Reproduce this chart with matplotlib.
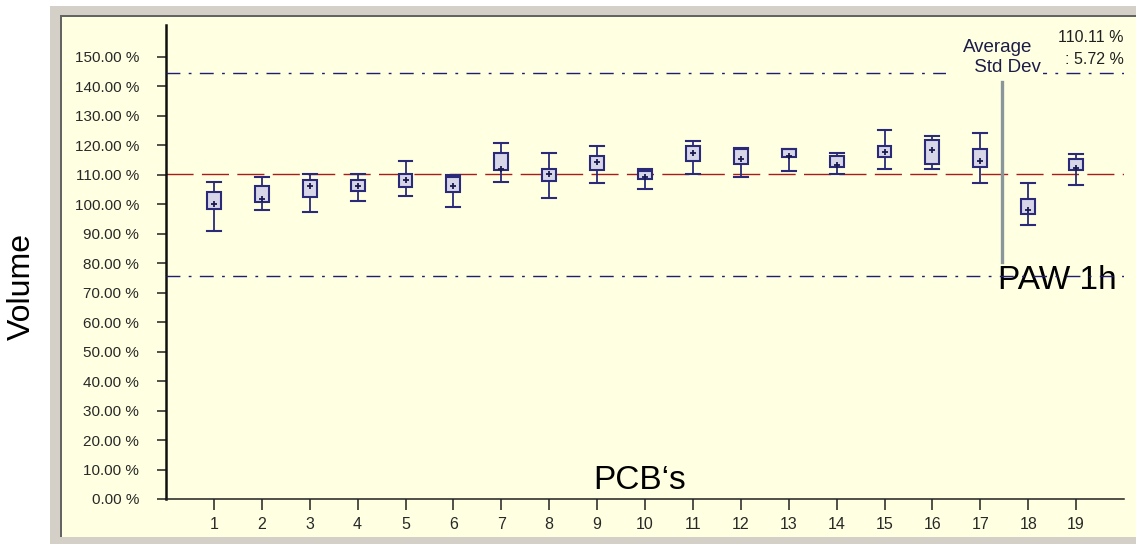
import numpy as np
import matplotlib.pyplot as plt
from matplotlib.patches import Rectangle

# Data (values in %)
pcb = list(range(1, 20))
whis_hi = [107.4, 109.1, 110.2, 110.2, 114.5, 110.0, 120.7, 117.4, 119.8, 112.1,
           121.6, 119.0, 118.9, 117.4, 125.1, 123.1, 124.0, 107.3, 117.2]
q3 = [104.0, 106.2, 108.2, 108.2, 110.2, 109.3, 117.4, 112.0, 116.4, 111.2,
      119.8, 118.7, 118.7, 116.4, 119.8, 121.9, 118.8, 101.8, 115.4]
q1 = [98.4, 100.6, 102.3, 104.4, 105.7, 104.3, 111.5, 107.8, 111.5, 108.6,
      114.7, 113.8, 115.9, 112.5, 115.9, 113.8, 112.5, 96.6, 111.6]
whis_lo = [90.9, 98.2, 97.2, 101.0, 102.8, 99.1, 107.4, 102.0, 107.3, 105.3,
           110.2, 109.2, 111.2, 110.2, 112.0, 112.0, 107.3, 92.9, 106.4]
means = [100.0, 101.9, 106.2, 106.2, 108.2, 106.2, 112.1, 110.2, 114.4, 109.4,
         117.4, 115.5, 116.3, 113.3, 117.6, 118.4, 114.5, 98.2, 112.3]

average = 110.11
std_dev = 5.72
upper = average + 6 * std_dev
lower = average - 6 * std_dev
y_ticks = list(range(0, 151, 10))
marker_x = 17.45            # grey vertical marker for "PAW 1h"
marker_span = (80.4, 141.6)

W, H = 1136, 544
sans = ['Liberation Sans', 'DejaVu Sans']
navy = '#2a2a78'

fig = plt.figure(figsize=(W / 100, H / 100), dpi=100, facecolor='white')


def frame(x0, y0, x1, y1, color):
    fig.patches.append(Rectangle((x0 / W, 1 - y1 / H), (x1 - x0) / W, (y1 - y0) / H,
                                 transform=fig.transFigure, facecolor=color,
                                 edgecolor='none', zorder=-10))


# sunken panel frame
frame(50, 6, W, H, '#d4d0c8')
frame(60, 15, W, 537, '#646464')
frame(62, 17, W, 537, '#ffffe1')

ax = fig.add_axes([166 / W, 1 - 499 / H, (1124 - 166) / W, (499 - 25) / H])
ax.set_facecolor('none')

stats = [dict(whislo=lo, q1=a, med=m, q3=b, whishi=hi, mean=m, fliers=[])
         for lo, a, b, hi, m in zip(whis_lo, q1, q3, whis_hi, means)]
ax.bxp(stats, positions=pcb, widths=0.29, capwidths=0.29, patch_artist=True,
       showmeans=True, showfliers=False,
       boxprops=dict(facecolor='#d6d6e8', edgecolor=navy, linewidth=1.5),
       whiskerprops=dict(color=navy, linewidth=1.3),
       capprops=dict(color=navy, linewidth=1.5),
       medianprops=dict(linewidth=0),
       meanprops=dict(marker='+', markeredgecolor='#1a1a50', markersize=4.5,
                      markeredgewidth=1.3),
       zorder=3)

ax.axhline(average, color='#a81c1c', lw=1.0, dashes=(19.5, 6), zorder=2)
ax.axhline(upper, color='#1e1e72', lw=1.0, dashes=(10, 6, 2, 6), zorder=4)
ax.axhline(lower, color='#1e1e72', lw=1.0, dashes=(10, 6, 2, 6), zorder=4)
ax.plot([marker_x, marker_x], marker_span, color='#8a959c', lw=2.4, zorder=4)

ax.set_xlim(0, 20)
ax.set_ylim(0, 160.8)
ax.set_xticks(pcb)
ax.set_xticklabels([str(p) for p in pcb], family=sans, fontsize=11.5)
ax.set_yticks(y_ticks)
ax.set_yticklabels([f'{v:.2f} %' for v in y_ticks], family=sans, fontsize=11)
ax.tick_params(axis='y', length=6.5, width=1.1, pad=13, colors='#202020')
ax.tick_params(axis='x', length=8, width=1.1, pad=5, colors='#202020')
for lab in ax.get_yticklabels() + ax.get_xticklabels():
    lab.set_color('#282828')

ax.spines['top'].set_visible(False)
ax.spines['right'].set_visible(False)
ax.spines['left'].set_linewidth(1.8)
ax.spines['left'].set_color('#101010')
ax.spines['bottom'].set_linewidth(1.1)
ax.spines['bottom'].set_color('#202020')

ax.text(8.92, 3.4, 'PCB\u2018s', family=sans, fontsize=24, ha='left', va='baseline',
        color='black', zorder=5)
ax.text(17.36, 71.4, 'PAW 1h', family=sans, fontsize=24, ha='left', va='baseline',
        color='black', zorder=3)

# average / std dev legend in the top right corner
bg = dict(facecolor='#ffffe1', edgecolor='none', pad=1.5)
fig.text(1032 / W, 1 - 47 / H, 'Average', family=sans, fontsize=13.5, ha='right',
         va='center', color='#1c1c48')
fig.text(1041 / W, 1 - 67 / H, '     Std Dev', family=sans, fontsize=13.5, ha='right',
         va='center', color='#1c1c48', bbox=bg, zorder=6)
fig.text(1124 / W, 1 - 37 / H, f'{average:.2f} %', family=sans, fontsize=11.5,
         ha='right', va='center', color='#202020')
fig.text(1124 / W, 1 - 60 / H, f': {std_dev:.2f} %', family=sans, fontsize=11.5,
         ha='right', va='center', color='#202020')

fig.text(22 / W, 1 - 287 / H, 'Volume', family=sans, fontsize=23, rotation=90,
         ha='center', va='center', color='black')

fig.savefig('out.png', dpi=100, facecolor='white')
